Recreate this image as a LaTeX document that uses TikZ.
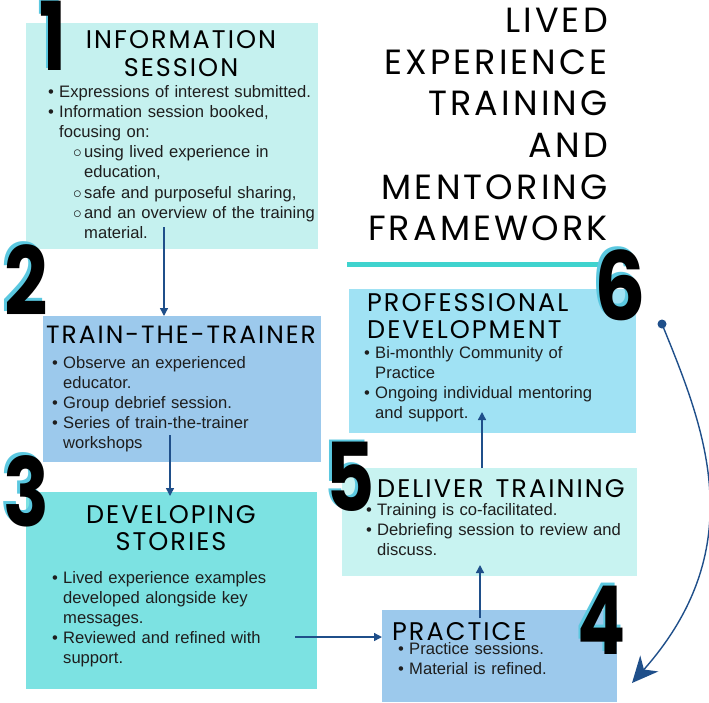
\documentclass[tikz,border=0pt]{standalone}
\usepackage{fontspec}
\usepackage{graphicx}
\setmainfont{Liberation Sans}
\newfontfamily\headfont{Poppins}[LetterSpace=8]
\newfontfamily\titlefont{Poppins}[LetterSpace=9]
\newfontfamily\numfont{Poppins}
\usetikzlibrary{arrows.meta}
\definecolor{txt}{HTML}{1E1E1E}
\definecolor{arrowc}{HTML}{1F4F8A}
\definecolor{tealline}{HTML}{3FD3CE}
\definecolor{cA}{HTML}{C5F1EF}
\definecolor{cB}{HTML}{9CC9EC}
\definecolor{cC}{HTML}{7CE2E2}
\definecolor{cF}{HTML}{A0E2F4}
\definecolor{cE}{HTML}{C8F3F1}
\definecolor{digout}{HTML}{5BC8E0}
\newcommand\bl{\makebox[11pt][l]{•}}
\newcommand\ind{\hspace*{11pt}}
\newcommand\sbl{\hspace*{25pt}\makebox[11pt][l]{$\circ$}}
\newcommand\sind{\hspace*{36pt}}
\newcommand\nohy{\hyphenpenalty=10000\relax\exhyphenpenalty=10000\relax}
\tikzset{
  box/.style={draw=none, anchor=north west, inner sep=0, outer sep=0},
  body/.style={anchor=base west, inner sep=0, text width=275pt, align=left, text=txt,
    font=\fontsize{16.6}{20.2}\selectfont},
  head/.style={anchor=base, inner sep=0, text=black, font=\headfont\fontsize{25.5}{27}\selectfont},
  title/.style={inner sep=0, align=right, text=black, font=\titlefont\fontsize{35}{41.6}\selectfont},
  digit/.style={inner sep=0, font=\numfont\bfseries\fontsize{95}{95}\selectfont},
  arr/.style={draw=arrowc, line width=1.4pt, -{Triangle[length=8pt,width=8pt]}},
}
\newcommand\dig[4]{%
  \node[digit, text=digout, xshift=-2.5pt, yshift=2.5pt] at (#1) {\scalebox{#4}[1]{#3}};
  \node[digit, text=black] (#2) at (#1) {\scalebox{#4}[1]{#3}};}
\begin{document}
\begin{tikzpicture}[x=1pt,y=-1pt]
\useasboundingbox[fill=white] (0,0) rectangle (709,702);
% boxes
\node[box, fill=cA, minimum width=292pt, minimum height=226pt] (b1) at (26,23) {};
\node[box, fill=cB, minimum width=278pt, minimum height=146pt] (b2) at (43,316) {};
\node[box, fill=cC, minimum width=291pt, minimum height=197pt] (b3) at (26,492) {};
\node[box, fill=cF, minimum width=287pt, minimum height=144pt] (b6) at (349,289) {};
\node[box, fill=cE, minimum width=295pt, minimum height=108pt] (b5) at (342,468) {};
\node[box, fill=cB, minimum width=235pt, minimum height=92pt] (b4) at (382,610) {};
% teal rule
\coordinate (r1) at (347,264);
\coordinate (r2) at (605,264);
\draw[tealline, line width=5pt] (r1) -- (r2);
% title
\node[title, anchor=north east] (title) at (608,8) {LIVED\\EXPERIENCE\\TRAINING\\AND\\MENTORING\\FRAMEWORK};
% digits
\dig{53,36}{n1}{1}{0.75}
\dig{26,280}{n2}{2}{0.8}
\dig{26,491}{n3}{3}{0.8}
\dig{350,477}{n5}{5}{0.8}
\dig{620,285}{n6}{6}{0.85}
\dig{602,620}{n4}{4}{0.75}
% headings
\node[head] (h1a) at (181,48) {INFORMATION};
\node[head] (h1b) at (181,76) {SESSION};
\node[head, font=\headfont\fontsize{25}{27}\selectfont] (h2) at (181,343) {TRAIN-THE-TRAINER};
\node[head] (h3a) at (171,523) {DEVELOPING};
\node[head] (h3b) at (171,550) {STORIES};
\node[head, anchor=base west] (h6a) at (367,311) {PROFESSIONAL};
\node[head, anchor=base west] (h6b) at (367,338) {DEVELOPMENT};
\node[head, anchor=base west] (h5) at (377,497) {DELIVER\hspace{12pt}TRAINING};
\node[head, anchor=base west] (h4) at (392,640) {PRACTICE};
% body texts
\node[body] (t1) at (48,97) {\nohy\bl Expressions of interest submitted.\\
\bl Information session booked,\\
\ind focusing on:\\
\sbl using lived experience in\\
\sind education,\\
\sbl safe and purposeful sharing,\\
\sbl and an overview of the training\\
\sind material.};
\node[body] (t2) at (52,368) {\nohy\bl Observe an experienced\\
\ind educator.\\
\bl Group debrief session.\\
\bl Series of train-the-trainer\\
\ind workshops};
\node[body] (t3) at (52,583) {\nohy\bl Lived experience examples\\
\ind developed alongside key\\
\ind messages.\\
\bl Reviewed and refined with\\
\ind support.};
\node[body] (t6) at (364,358) {\nohy\bl Bi-monthly Community of\\
\ind Practice\\
\bl Ongoing individual mentoring\\
\ind and support.};
\node[body, text width=265pt] (t5) at (366,515) {\nohy\bl Training is co-facilitated.\\
\bl Debriefing session to review and\\
\ind discuss.};
\node[body, text width=170pt] (t4) at (398,654) {\nohy\bl Practice sessions.\\
\bl Material is refined.};
% connectors
\coordinate (s12) at (164,227);
\draw[arr] (s12) -- (s12 |- b2.north);
\coordinate (s23) at (170,435);
\coordinate (e23) at (170,496);
\draw[arr] (s23) -- (e23);
\coordinate (s34) at (295,637);
\draw[arr] (s34) -- (s34 -| b4.west);
\coordinate (s45) at (480,618);
\coordinate (e45) at (480,565);
\draw[arr] (s45) -- (e45);
\coordinate (s56) at (482,468);
\coordinate (e56) at (482,412);
\draw[arr] (s56) -- (e56);
\node[circle, fill=arrowc, inner sep=0, minimum size=9pt] (d6) at (662,324) {};
\coordinate (e64) at (632,683);
\draw[draw=arrowc, line width=1.4pt, -{Stealth[length=26pt,width=24pt,inset=8pt]}]
  (d6.center) .. controls (703,425) and (754,545) .. (e64);
\end{tikzpicture}
\end{document}
